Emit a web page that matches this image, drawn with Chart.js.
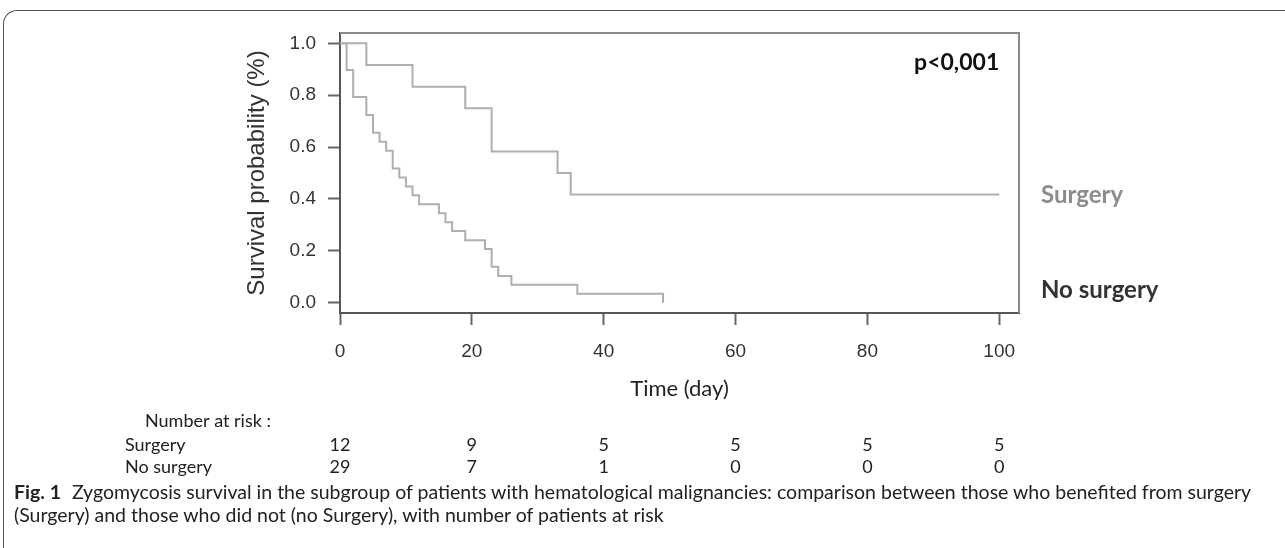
<!DOCTYPE html>
<html>
<head>
<meta charset="utf-8">
<script src="https://cdn.jsdelivr.net/npm/chart.js@4.4.0/dist/chart.umd.min.js"></script>
<style>
  html, body { margin: 0; padding: 0; background: #fff; }
  #wrap { position: relative; width: 1285px; height: 548px; overflow: hidden; }
  #frame {
    position: absolute; left: 3px; top: 10px; width: 1400px; height: 700px;
    border-top: 1px solid #555; border-left: 1px solid #555;
    border-top-left-radius: 14px;
  }
  #chartBox { position: absolute; left: 0; top: 0; width: 1285px; height: 548px; }
  #caption {
    position: absolute; left: 14px; top: 480px; width: 1270px;
    font-family: Lato, "Open Sans", sans-serif; font-size: 19.5px; line-height: 23px; color: #222;
  }
  #caption b { font-weight: 700; margin-right: 6px; }
</style>
</head>
<body>
<div id="wrap">
  <div id="frame"></div>
  <div id="chartBox"><canvas id="kmChart"></canvas></div>
  <div id="caption"><b>Fig. 1</b> Zygomycosis survival in the subgroup of patients with hematological malignancies: comparison between those who benefited from surgery (Surgery) and those who did not (no Surgery), with number of patients at risk</div>
</div>
<script>
// Kaplan-Meier steps (time in days, survival after the event)
const surgeryTimes = [0, 4, 11, 19, 23, 33, 35, 100];
const surgerySurv = [1, 0.917, 0.833, 0.750, 0.583, 0.500, 0.417, 0.417];

const noSurgeryTimes = [0, 1, 2, 4, 5, 6, 7, 8, 9, 10, 11, 12, 15, 16, 17, 19, 22, 23, 24, 26, 36, 49];
const noSurgerySurv = [1, 0.897, 0.793, 0.724, 0.655, 0.621, 0.586, 0.517, 0.483, 0.448, 0.414, 0.379,
                       0.345, 0.310, 0.276, 0.241, 0.207, 0.138, 0.103, 0.069, 0.034, 0];

// axis ticks
const xTicks = [0, 20, 40, 60, 80, 100];
const yTicks = [0, 0.2, 0.4, 0.6, 0.8, 1.0];

// number at risk table
const riskGroups = ["Surgery", "No surgery"];
const riskSurgery = [12, 9, 5, 5, 5, 5];
const riskNoSurgery = [29, 7, 1, 0, 0, 0];

const toPoints = (xs, ys) => xs.map((x, i) => ({ x: x, y: ys[i] }));

// box around the plot + labels + risk table
const extras = {
  id: 'extras',
  afterDraw(chart) {
    const { ctx, chartArea: a, scales } = chart;
    ctx.save();
    ctx.strokeStyle = '#8a8a8a';
    ctx.lineWidth = 2;
    ctx.beginPath();
    ctx.moveTo(a.left, a.top);
    ctx.lineTo(a.right, a.top);
    ctx.lineTo(a.right, a.bottom);
    ctx.stroke();

    ctx.textBaseline = 'middle';
    ctx.font = 'bold 23px Lato, sans-serif';
    ctx.fillStyle = '#111';
    ctx.textAlign = 'right';
    ctx.fillText('p<0,001', scales.x.getPixelForValue(100), 63);

    ctx.textAlign = 'left';
    ctx.font = 'bold 24px Lato, sans-serif';
    ctx.fillStyle = '#8c8c8c';
    ctx.fillText('Surgery', 1041, 195);
    ctx.fillStyle = '#333';
    ctx.fillText('No surgery', 1041, 290);

    // risk table
    ctx.font = '18px Lato, sans-serif';
    ctx.fillStyle = '#222';
    ctx.fillText('Number at risk :', 145, 421);
    const rows = [riskSurgery, riskNoSurgery];
    rows.forEach((row, r) => {
      const y = 445 + r * 22;
      ctx.textAlign = 'left';
      ctx.fillText(riskGroups[r], 125, y);
      ctx.textAlign = 'center';
      row.forEach((n, i) => ctx.fillText(String(n), scales.x.getPixelForValue(xTicks[i]), y));
    });
    ctx.restore();
  }
};

new Chart('kmChart', {
  type: 'line',
  data: {
    datasets: [{
      label: 'Surgery',
      data: toPoints(surgeryTimes, surgerySurv),
      borderColor: '#afafaf',
      borderWidth: 2,
      stepped: 'before',
      pointRadius: 0,
      fill: false
    }, {
      label: 'No surgery',
      data: toPoints(noSurgeryTimes, noSurgerySurv),
      borderColor: '#afafaf',
      borderWidth: 2,
      stepped: 'before',
      pointRadius: 0,
      fill: false
    }]
  },
  options: {
    responsive: true,
    maintainAspectRatio: false,
    animation: false,
    events: [],
    layout: { padding: { left: 240, top: 33, right: 266, bottom: 145 } },
    plugins: { legend: { display: false }, tooltip: { enabled: false } },
    scales: {
      x: {
        type: 'linear',
        min: 0,
        max: 103,
        afterBuildTicks: s => { s.ticks = xTicks.map(v => ({ value: v })); },
        afterFit: s => { s.height = 90; },
        grid: { drawOnChartArea: false, tickLength: 12, tickColor: '#666', tickWidth: 2 },
        border: { color: '#555', width: 2 },
        ticks: { padding: 15, color: '#333', font: { family: 'Liberation Sans', size: 19 }, maxRotation: 0 },
        title: { display: true, text: 'Time (day)', color: '#222', font: { family: 'Lato', size: 22 }, padding: { top: 0, bottom: 1 } }
      },
      y: {
        type: 'linear',
        min: -0.04,
        max: 1.04,
        afterBuildTicks: s => { s.ticks = yTicks.map(v => ({ value: v })); },
        afterFit: s => { s.width = 100; },
        grid: { drawOnChartArea: false, tickLength: 12, tickColor: '#666', tickWidth: 2 },
        border: { color: '#555', width: 2 },
        ticks: { padding: 12, color: '#333', font: { family: 'Liberation Sans', size: 19 }, callback: v => v.toFixed(1) },
        title: { display: true, text: 'Survival probability (%)', color: '#333', font: { family: 'Liberation Sans', size: 24 }, padding: { top: 3, bottom: 0 } }
      }
    }
  },
  plugins: [extras]
});
</script>
</body>
</html>
